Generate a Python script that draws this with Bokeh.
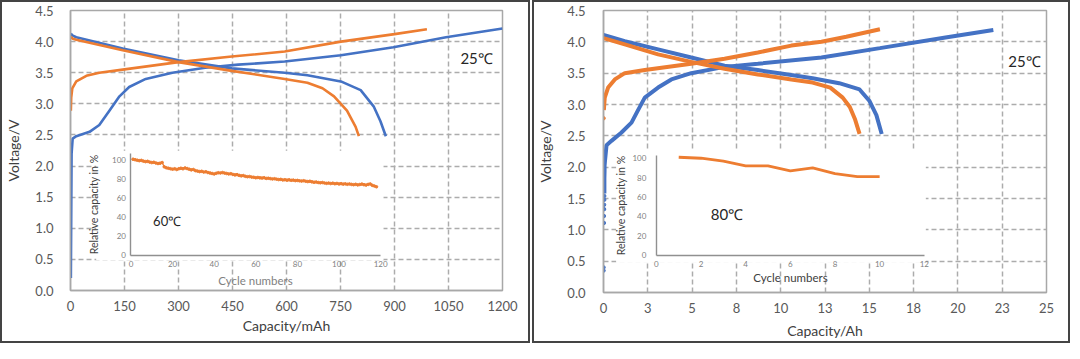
from bokeh.plotting import figure
from bokeh.models import Range1d, LinearAxis, FixedTicker, Label, BoxAnnotation
from bokeh.layouts import row, column
from bokeh.embed import file_html
from bokeh.resources import INLINE

BLUE = "#4472C4"
ORANGE = "#ED7D31"
FONT = "Lato"

# ---------------- Left panel data (capacity mAh, voltage V) ----------------
L_X_TICKS = [0, 150, 300, 450, 600, 750, 900, 1050, 1200]
L_X_LABELS = ["0", "150", "300", "450", "600", "750", "900", "1050", "1200"]
Y_TICKS = [0, 0.5, 1.0, 1.5, 2.0, 2.5, 3.0, 3.5, 4.0, 4.5]
Y_LABELS = ["0.0", "0.5", "1.0", "1.5", "2.0", "2.5", "3.0", "3.5", "4.0", "4.5"]

L_BLUE_CHG_X = [1, 3, 6, 16, 53, 80, 108, 136, 163, 209, 283, 374, 466, 595, 751, 897, 1043, 1200]
L_BLUE_CHG_Y = [0.20, 2.20, 2.44, 2.48, 2.55, 2.66, 2.89, 3.12, 3.27, 3.40, 3.50, 3.58, 3.63, 3.68, 3.78, 3.91, 4.07, 4.21]
L_ORG_CHG_X = [1, 2, 5, 16, 44, 80, 145, 300, 448, 595, 751, 900, 990]
L_ORG_CHG_Y = [2.89, 3.10, 3.25, 3.36, 3.45, 3.50, 3.55, 3.67, 3.76, 3.84, 4.00, 4.12, 4.20]
L_BLUE_DIS_X = [1, 5, 16, 145, 300, 448, 595, 658, 751, 806, 842, 861, 876]
L_BLUE_DIS_Y = [4.13, 4.10, 4.07, 3.89, 3.70, 3.57, 3.50, 3.46, 3.36, 3.22, 2.96, 2.72, 2.48]
L_ORG_DIS_X = [1, 5, 16, 145, 300, 448, 595, 658, 700, 732, 768, 792, 801]
L_ORG_DIS_Y = [4.08, 4.05, 4.03, 3.86, 3.67, 3.53, 3.40, 3.34, 3.25, 3.12, 2.89, 2.63, 2.48]

# inset 60 C: relative capacity vs cycle
L_IN_X_TICKS = [0, 20, 40, 60, 80, 100, 120]
IN_Y_TICKS = [0, 20, 40, 60, 80, 100]
L_IN_CYCLES = list(range(1, 119))
L_IN_CAP = [101, 100.5, 100, 99.5, 99.8, 99, 98.5, 98.8, 98, 97.5, 97.8, 97, 96.5, 96.8, 97.5,
            93, 92, 91.5, 91, 90.5, 91, 90.2, 91, 91.5, 91, 91.8, 91.2, 90.5, 89.8, 90.2,
            89, 88.5, 88, 88.3, 87.5, 87.8, 87, 86.5, 86, 85.5, 86.2, 86.8, 86.5, 87, 86.4,
            86, 85.5, 85.8, 85, 84.5, 84.8, 84, 83.5, 83.8, 83, 82.6, 82.8, 82.2, 82, 81.5,
            81.8, 81.4, 81.2, 81.5, 80.8, 81, 80.6, 80.2, 80.5, 80, 79.6, 79.8, 79.2, 79.4, 79,
            79.3, 78.8, 79, 78.5, 78.7, 78.3, 78, 78.4, 77.8, 77.5, 77.8, 77.2, 76.8, 77, 76.5,
            76.2, 76.5, 76, 75.6, 75.9, 75.4, 75.8, 75.2, 75.5, 75, 75.3, 74.8, 75.1, 74.6, 75,
            74.5, 74.2, 74.6, 74, 74.4, 74.8, 74.2, 73.8, 74.5, 75, 73.5, 72.8, 72]

# ---------------- Right panel data (capacity Ah, voltage V) ----------------
R_X_TICKS = [0, 2.5, 5, 7.5, 10, 12.5, 15, 17.5, 20, 22.5, 25]
R_X_LABELS = ["0", "3", "5", "8", "10", "13", "15", "18", "20", "23", "25"]

R_BLUE_LOW_X = [0.0, 0.0, 0.02, 0.02, 0.03, 0.03, 0.04, 0.04]
R_BLUE_LOW_Y = [0.35, 0.40, 1.11, 1.22, 1.33, 1.40, 1.48, 1.54]
R_BLUE_CHG_X = [0.05, 0.05, 0.05, 0.06, 0.06, 0.08, 0.17, 0.45, 1.0, 1.58, 1.95, 2.33, 3.08, 3.83, 4.95, 6.83, 8.71, 12.3, 15.6, 19.3, 22.0]
R_BLUE_CHG_Y = [1.58, 1.70, 1.82, 1.94, 2.02, 2.09, 2.35, 2.42, 2.55, 2.71, 2.91, 3.11, 3.27, 3.40, 3.50, 3.60, 3.65, 3.75, 3.90, 4.07, 4.19]
R_ORG_START_X = [0.0]
R_ORG_START_Y = [2.78]
R_ORG_CHG_X = [0.02, 0.07, 0.26, 0.64, 1.2, 2.33, 4.95, 6.83, 8.71, 10.6, 12.3, 13.7, 15.6]
R_ORG_CHG_Y = [2.91, 3.11, 3.27, 3.40, 3.50, 3.55, 3.65, 3.73, 3.83, 3.94, 4.00, 4.08, 4.20]
R_BLUE_DIS_X = [0.0, 1.2, 3.08, 4.95, 6.83, 8.71, 10.6, 11.8, 13.3, 14.45, 15.0, 15.4, 15.7]
R_BLUE_DIS_Y = [4.11, 4.01, 3.88, 3.75, 3.62, 3.55, 3.47, 3.42, 3.34, 3.24, 3.06, 2.83, 2.53]
R_ORG_DIS_X = [0.0, 1.2, 3.08, 4.95, 6.83, 8.71, 10.6, 11.8, 12.8, 13.5, 13.9, 14.2, 14.45]
R_ORG_DIS_Y = [4.06, 3.96, 3.80, 3.68, 3.57, 3.48, 3.40, 3.35, 3.27, 3.11, 2.96, 2.76, 2.53]

# inset 80 C
R_IN_X_TICKS = [0, 2, 4, 6, 8, 10, 12]
R_IN_CYCLES = [1, 2, 3, 4, 5, 6, 7, 8, 9, 10]
R_IN_CAP = [101, 100, 97, 92, 92, 87, 90, 84, 81, 81]

HEIGHT = 339
GRID = "#acacac"
FRAME = "#a8a8a8"


def main_fig(width, xmax, xticks, xlabels, xtitle, mbl, mbr, mbt, mbb,
             tick_standoff_x, title_standoff_x, ystand, ytitle_stand):
    p = figure(width=width, height=HEIGHT, x_range=Range1d(0, xmax), y_range=Range1d(0, 4.5),
               output_backend="svg", toolbar_location=None,
               min_border_left=mbl, min_border_right=mbr, min_border_top=mbt, min_border_bottom=mbb,
               background_fill_color="white", border_fill_color="white")
    p.outline_line_color = FRAME
    p.outline_line_width = 1.5

    p.xaxis.ticker = FixedTicker(ticks=xticks)
    p.xaxis.major_label_overrides = dict(zip(xticks, xlabels))
    p.yaxis.ticker = FixedTicker(ticks=Y_TICKS)
    p.yaxis.major_label_overrides = dict(zip(Y_TICKS, Y_LABELS))
    for ax in (p.xaxis, p.yaxis):
        ax.axis_line_color = FRAME
        ax.axis_line_width = 1.5
        ax.major_tick_line_color = None
        ax.minor_tick_line_color = None
        ax.major_tick_out = 0
        ax.major_label_text_font = FONT
        ax.major_label_text_font_size = "13px"
        ax.major_label_text_color = "#595959"
        ax.axis_label_text_font = FONT
        ax.axis_label_text_font_size = "14px"
        ax.axis_label_text_color = "#404040"
        ax.axis_label_text_font_style = "normal"
    p.xaxis.axis_label = xtitle
    p.yaxis.axis_label = "Voltage/V"
    p.xaxis.major_label_standoff = tick_standoff_x
    p.xaxis.axis_label_standoff = title_standoff_x
    p.yaxis.major_label_standoff = ystand
    p.yaxis.axis_label_standoff = ytitle_stand

    p.xgrid.ticker = FixedTicker(ticks=xticks)
    p.ygrid.ticker = FixedTicker(ticks=Y_TICKS)
    for g in (p.xgrid, p.ygrid):
        g.grid_line_color = GRID
        g.grid_line_alpha = 1.0
        g.grid_line_dash = "5 3"
        g.grid_line_width = 1.5
    return p


def add_inset(p, ix_range, iy_range, xticks, xbound, ybound, box, xlab_color,
              ystand, ytitle_stand, xstand, xtitle_stand):
    p.extra_x_ranges = {"ix": Range1d(*ix_range)}
    p.extra_y_ranges = {"iy": Range1d(*iy_range)}
    p.add_layout(BoxAnnotation(left=box[0], right=box[1], bottom=box[2], top=box[3],
                               x_range_name="ix", y_range_name="iy",
                               fill_color="white", fill_alpha=1.0, line_color=None,
                               level="underlay"))
    xa = LinearAxis(x_range_name="ix", y_range_name="iy", fixed_location=0,
                    bounds=xbound, ticker=FixedTicker(ticks=xticks),
                    axis_label="Cycle numbers")
    ya = LinearAxis(x_range_name="ix", y_range_name="iy", fixed_location=0,
                    bounds=ybound, ticker=FixedTicker(ticks=IN_Y_TICKS),
                    axis_label="Relative capacity in %")
    for ax in (xa, ya):
        ax.axis_line_color = "#909090"
        ax.axis_line_width = 1.4
        ax.major_tick_line_color = None
        ax.minor_tick_line_color = None
        ax.major_tick_out = 0
        ax.major_label_text_font = FONT
        ax.major_label_text_font_size = "8px"
        ax.major_label_text_color = "#7f7f7f"
        ax.axis_label_text_font = FONT
        ax.axis_label_text_font_style = "normal"
    xa.axis_label_text_font_size = "11.5px"
    xa.axis_label_text_color = xlab_color
    ya.axis_label_text_font_size = "10.5px"
    ya.axis_label_text_color = "#404040"
    xa.major_label_standoff = xstand
    xa.axis_label_standoff = xtitle_stand
    ya.major_label_standoff = ystand
    ya.axis_label_standoff = ytitle_stand
    p.add_layout(xa, "below")
    p.add_layout(ya, "left")


# ---------------- Left figure ----------------
p1 = main_fig(526, 1200, L_X_TICKS, L_X_LABELS, "Capacity/mAh", 64, 26, 8, 51, 10, 3, 17, 10)
add_inset(p1, (-29.05, 178.57), (-37.2, 257.6), L_IN_X_TICKS, (0, 120), (0, 106.7),
          (-16.7, 121.4, -5, 110), "#7f7f7f", 5, 9, 6, 3)

p1.line(L_BLUE_CHG_X, L_BLUE_CHG_Y, line_color=BLUE, line_width=2.6)
p1.line(L_BLUE_DIS_X, L_BLUE_DIS_Y, line_color=BLUE, line_width=2.6)
p1.line(L_ORG_CHG_X, L_ORG_CHG_Y, line_color=ORANGE, line_width=2.6)
p1.line(L_ORG_DIS_X, L_ORG_DIS_Y, line_color=ORANGE, line_width=2.6)
p1.line(L_IN_CYCLES, L_IN_CAP, line_color=ORANGE, line_width=1.3, x_range_name="ix", y_range_name="iy")
p1.scatter(L_IN_CYCLES, L_IN_CAP, size=2.6, color=ORANGE, x_range_name="ix", y_range_name="iy")

p1.add_layout(Label(x=1128, y=3.73, text="25℃", text_font=FONT, text_font_size="15px",
                    text_color="#262626", text_align="center", text_baseline="middle"))
p1.add_layout(Label(x=17.4, y=36.4, text="60℃", x_range_name="ix", y_range_name="iy",
                    text_font=FONT, text_font_size="13px", text_color="#262626",
                    text_align="center", text_baseline="middle"))

# ---------------- Right figure ----------------
p2 = main_fig(534, 25, R_X_TICKS, R_X_LABELS, "Capacity/Ah", 68, 22, 8, 49, 10, 6, 18, 10)
add_inset(p2, (-2.369, 17.475), (-38.7, 252.6), R_IN_X_TICKS, (0, 12), (0, 103),
          (-1.8, 12.07, -8, 108), "#404040", 10, 3, 6, 0)

for xs, ys, c in ((R_BLUE_CHG_X, R_BLUE_CHG_Y, BLUE), (R_BLUE_DIS_X, R_BLUE_DIS_Y, BLUE),
                  (R_ORG_CHG_X, R_ORG_CHG_Y, ORANGE), (R_ORG_DIS_X, R_ORG_DIS_Y, ORANGE)):
    p2.line(xs, ys, line_color=c, line_width=4)
p2.scatter(R_BLUE_LOW_X, R_BLUE_LOW_Y, size=3.5, color=BLUE)
p2.scatter(R_ORG_START_X, R_ORG_START_Y, size=3.5, color=ORANGE)
p2.line(R_IN_CYCLES, R_IN_CAP, line_color=ORANGE, line_width=2.8, x_range_name="ix", y_range_name="iy")

p2.add_layout(Label(x=23.76, y=3.70, text="25℃", text_font=FONT, text_font_size="15px",
                    text_color="#262626", text_align="center", text_baseline="middle"))
p2.add_layout(Label(x=3.16, y=42.3, text="80℃", x_range_name="ix", y_range_name="iy",
                    text_font=FONT, text_font_size="15px", text_color="#262626",
                    text_align="center", text_baseline="middle"))

BORDER = {"border": "2px solid #444444"}
layout = row(column(p1, styles=BORDER), column(p2, styles=BORDER), spacing=2)
open("out.html", "w").write(file_html(layout, INLINE))
